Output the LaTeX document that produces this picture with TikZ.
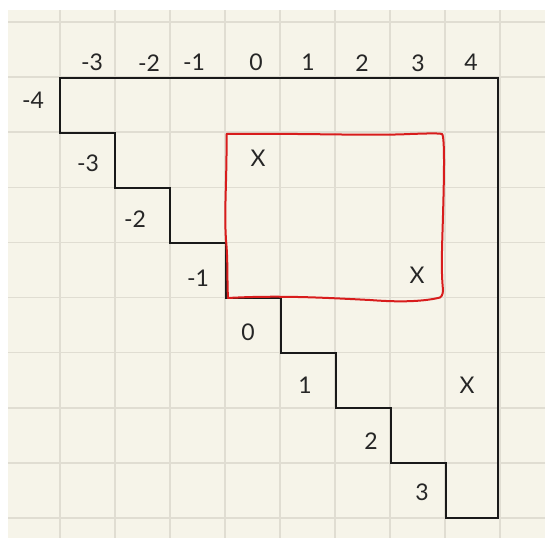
\documentclass[tikz,border=0pt]{standalone}
\usepackage{fontspec}
\setmainfont{Lato}
\definecolor{paper}{HTML}{F6F4E9}
\definecolor{gridc}{HTML}{E0DDD2}
\definecolor{penred}{HTML}{D81C1C}
\begin{document}
\begin{tikzpicture}[x=1pt,y=-1pt,
  lbl/.style={font=\fontsize{23}{25}\selectfont, text=black!85, inner sep=0pt},
  gridline/.style={gridc, line width=1.6pt},
  ink/.style={black!90, line width=2pt, line join=miter},
  redink/.style={penred, line width=2pt, line join=round, line cap=round}]
\useasboundingbox (0,0) rectangle (545,538);
\fill[white] (0,0) rectangle (545,538);
\fill[paper] (8,10) rectangle (545,538);
% grid
\foreach \i in {0,...,8} { \draw[gridline] ({60+55*\i},10) -- ({60+55*\i},538); }
\foreach \j in {0,...,9} { \draw[gridline] (8,{22+55.11*\j}) -- (545,{22+55.11*\j}); }
% staircase outline
\draw[ink] (60,77.5) -- (498,77.5) -- (498,518) -- (446,518) -- (446,463) -- (391,463)
  -- (391,408) -- (336,408) -- (336,353) -- (281,353) -- (281,298) -- (226,298)
  -- (226,243) -- (170,243) -- (170,188) -- (115,188) -- (115,133) -- (60,133) -- cycle;
% red hand-drawn rectangle
\draw[redink] (226.5,134) .. controls (300,133) and (370,136) .. (410,134)
  .. controls (425,133.5) and (438,133) .. (442,134)
  .. controls (445,136) and (444,180) .. (443,215)
  .. controls (442,250) and (441,270) .. (443,290)
  .. controls (443,295) and (441,298) .. (438,298)
  .. controls (420,302) and (395,302) .. (370,300)
  .. controls (330,298) and (280,295) .. (228,298)
  .. controls (227,280) and (228,260) .. (226,240)
  .. controls (224,210) and (227,180) .. (226.5,134) -- cycle;
% top labels
\node[lbl] (t1) at (92,62) {-3};
\node[lbl] (t2) at (149,63) {-2};
\node[lbl] (t3) at (194,62) {-1};
\node[lbl] (t4) at (256,62) {0};
\node[lbl] (t5) at (308,62) {1};
\node[lbl] (t6) at (362,63) {2};
\node[lbl] (t7) at (418,63) {3};
\node[lbl] (t8) at (471,62) {4};
% left labels
\node[lbl] (l1) at (33,100) {-4};
\node[lbl] (l2) at (88,163) {-3};
\node[lbl] (l3) at (135,219) {-2};
\node[lbl] (l4) at (198,278) {-1};
\node[lbl] (l5) at (248,332) {0};
\node[lbl] (l6) at (305,385) {1};
\node[lbl] (l7) at (371,441) {2};
\node[lbl] (l8) at (422,492) {3};
% marks
\node[lbl] (x1) at (258,158) {X};
\node[lbl] (x2) at (417,275) {X};
\node[lbl] (x3) at (467,385) {X};
\end{tikzpicture}
\end{document}
